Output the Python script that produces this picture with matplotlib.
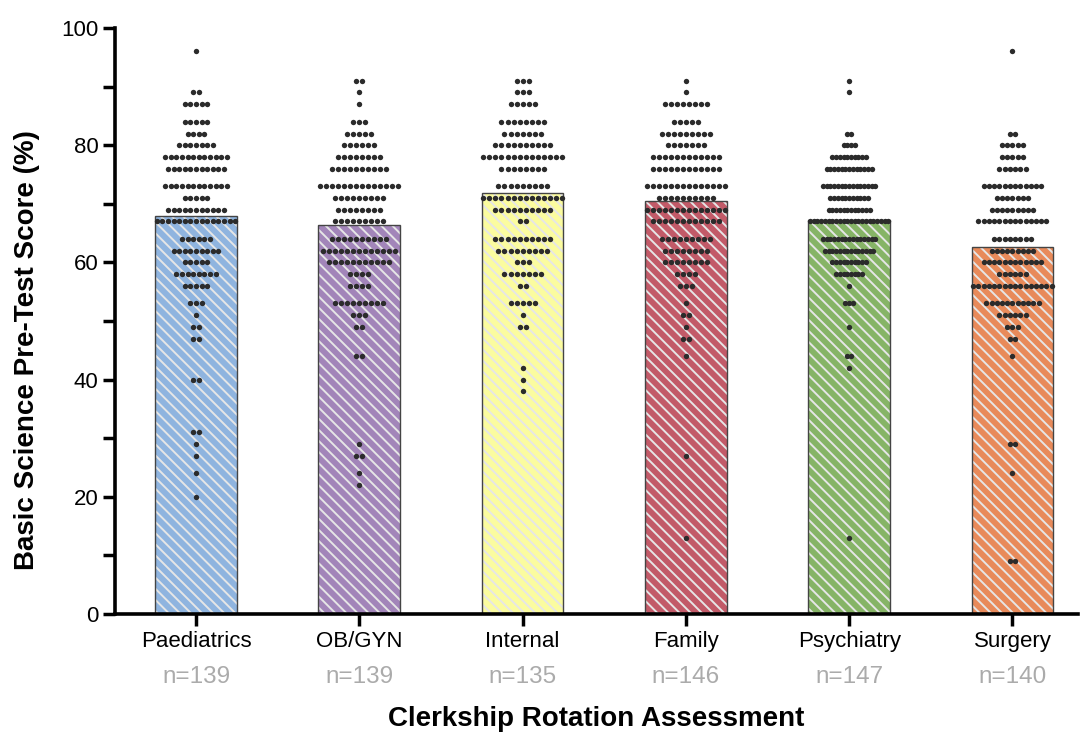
import numpy as np
import matplotlib
matplotlib.use('Agg')
import matplotlib.pyplot as plt

plt.rcParams['font.family'] = ['Liberation Sans', 'DejaVu Sans']
plt.rcParams['hatch.linewidth'] = 1.4

# Data
categories = ['Paediatrics', 'OB/GYN', 'Internal', 'Family', 'Psychiatry', 'Surgery']
n_counts = [139, 139, 135, 146, 147, 140]
mean_scores = [68.0, 66.4, 71.9, 70.5, 67.2, 62.7]

# score (%) -> number of students at that score
paediatrics = {96: 1, 89: 2, 87: 5, 84: 5, 82: 4, 80: 7, 78: 12, 76: 11, 73: 12,
               71: 5, 69: 11, 67: 15, 64: 6, 62: 9, 60: 5, 58: 8, 56: 5, 53: 3,
               51: 1, 49: 2, 47: 2, 40: 2, 31: 2, 29: 1, 27: 1, 24: 1, 20: 1}
obgyn = {91: 2, 89: 1, 87: 1, 84: 3, 82: 5, 80: 6, 78: 8, 76: 10, 73: 14, 71: 9,
         69: 8, 67: 9, 64: 10, 62: 13, 60: 11, 58: 4, 56: 4, 53: 9, 51: 3, 49: 2,
         44: 2, 29: 1, 27: 2, 24: 1, 22: 1}
internal = {91: 3, 89: 3, 87: 5, 84: 8, 82: 7, 80: 10, 78: 14, 76: 8, 73: 9, 71: 14,
            69: 10, 67: 2, 64: 10, 62: 9, 60: 3, 58: 7, 56: 2, 53: 5, 51: 1, 49: 2,
            42: 1, 40: 1, 38: 1}
family = {91: 1, 89: 1, 87: 8, 84: 5, 82: 9, 80: 7, 78: 12, 76: 12, 73: 14, 71: 10,
          69: 14, 67: 12, 64: 9, 62: 8, 60: 8, 58: 4, 56: 3, 53: 1, 51: 2, 49: 1,
          47: 2, 44: 1, 27: 1, 13: 1}
psychiatry = {91: 1, 89: 1, 82: 2, 80: 4, 78: 10, 76: 13, 73: 15, 71: 11, 69: 12,
              67: 22, 64: 15, 62: 14, 60: 10, 58: 8, 56: 1, 53: 3, 49: 1, 44: 2,
              42: 1, 13: 1}
surgery = {96: 1, 82: 2, 80: 5, 78: 5, 76: 6, 73: 12, 71: 7, 69: 9, 67: 14, 64: 8,
           62: 9, 60: 12, 58: 6, 56: 16, 53: 11, 51: 6, 49: 3, 47: 2, 44: 1, 29: 2,
           24: 1, 9: 2}
groups = [paediatrics, obgyn, internal, family, psychiatry, surgery]

bar_colors = ['#8fb4df', '#a285b9', '#fbfc9f', '#c25a68', '#86b466', '#e88a5a']
stripe_color = '#e6e6e6'
dot_color = '#2b2b2b'
bar_width = 0.5
row_span = 0.48   # widest row of dots fills about the bar width

fig = plt.figure(figsize=(10.81, 7.32), dpi=100)
ax = fig.add_axes([0.1061, 0.1612, 0.997 - 0.1061, 0.9617 - 0.1612])

x = np.arange(len(categories))

# striped bars (hatch takes the edge colour, so outline drawn separately)
for i in x:
    ax.bar(i, mean_scores[i], width=bar_width, color=bar_colors[i],
           edgecolor=stripe_color, linewidth=0, hatch='\\\\\\', zorder=1)
ax.bar(x, mean_scores, width=bar_width, fill=False, edgecolor='#444444',
       linewidth=1.0, zorder=2)

# dots: each score row centred on the category, spread sideways
for i, grp in enumerate(groups):
    step = row_span / (max(grp.values()) - 1)
    xs, ys = [], []
    for score, k in grp.items():
        offs = (np.arange(k) - (k - 1) / 2) * step
        xs.extend(i + offs)
        ys.extend([score] * k)
    ax.scatter(xs, ys, s=15, color=dot_color, linewidths=0, zorder=3, clip_on=False)

ax.set_xlim(-0.498, 5.40)
ax.set_ylim(0, 100)
ax.set_yticks(np.arange(0, 101, 20))
ax.set_yticks(np.arange(10, 100, 20), minor=True)
ax.set_xticks(x)
ax.set_xticklabels(categories, fontsize=16)
ax.tick_params(axis='y', which='both', direction='out', length=8.5, width=2.5,
               labelsize=16, pad=3)
ax.tick_params(axis='x', direction='out', length=8.5, width=2.5, pad=4)

for side in ['top', 'right']:
    ax.spines[side].set_visible(False)
for side in ['left', 'bottom']:
    ax.spines[side].set_linewidth(2.6)

for i in x:
    ax.text(i, -0.1075, f'n={n_counts[i]}', transform=ax.get_xaxis_transform(),
            ha='center', va='center', fontsize=17.5, color='#ababab')

fig.text(0.5513, 0.0178, 'Clerkship Rotation Assessment', ha='center', va='center',
         fontsize=20, fontweight='bold')
fig.text(0.025, 0.522, 'Basic Science Pre-Test Score (%)', ha='center', va='center',
         rotation=90, fontsize=20, fontweight='bold')

fig.savefig('out.png', dpi=100)
